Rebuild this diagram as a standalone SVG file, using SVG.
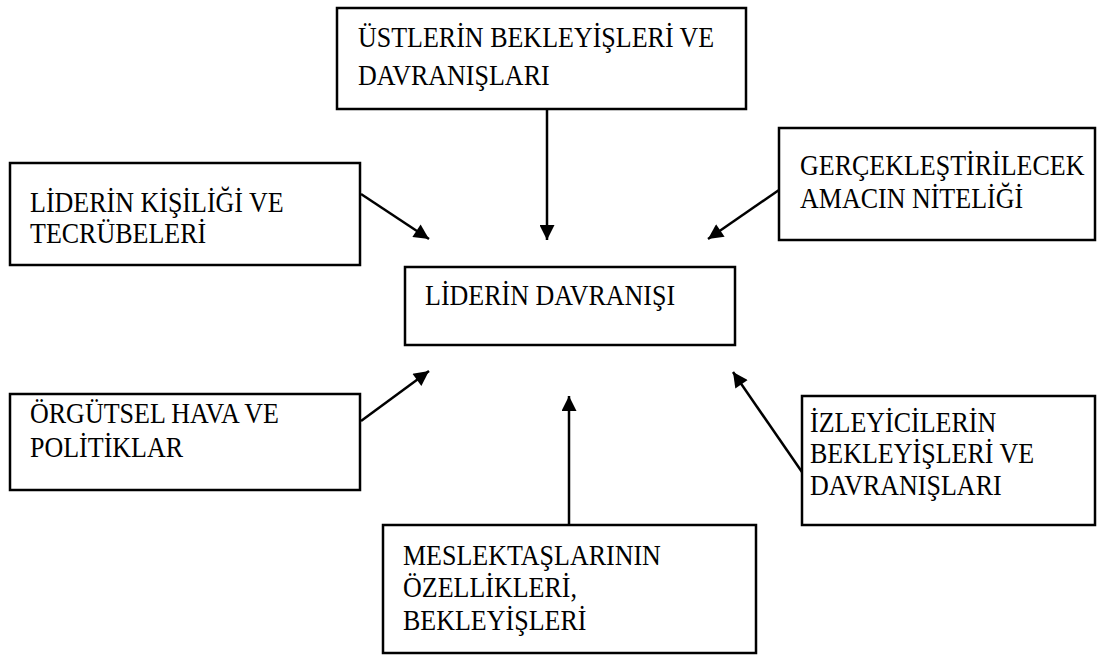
<svg xmlns="http://www.w3.org/2000/svg" width="1106" height="655" viewBox="0 0 1106 655">
<style>
.box{fill:#fff;stroke:#000;stroke-width:2.5}
.t{font-family:"Liberation Serif","Times New Roman",serif;font-size:26px;fill:#000}
.c{stroke:#000;stroke-width:2.5;fill:none;marker-end:url(#ah)}
</style>
<defs>
<marker id="ah" viewBox="0 0 10 10" refX="10" refY="5" markerWidth="7" markerHeight="6" markerUnits="strokeWidth" orient="auto">
<path d="M0,0 L10,5 L0,10 z" fill="#000"/>
</marker>
</defs>
<rect width="1106" height="655" fill="#fff"/>
<g id="connectors">
<line class="c" x1="547" y1="109" x2="547" y2="240"/>
<line class="c" x1="361" y1="194" x2="429" y2="239"/>
<line class="c" x1="779" y1="190" x2="708" y2="239"/>
<line class="c" x1="361" y1="421" x2="429" y2="371"/>
<line class="c" x1="802" y1="472" x2="733" y2="372"/>
<line class="c" x1="569" y1="525" x2="569" y2="396"/>
</g>
<g id="n_ustler">
<rect class="box" x="337" y="8" width="409" height="101"/>
<text class="t" transform="translate(358,47) scale(1,1.1)">ÜSTLERİN BEKLEYİŞLERİ VE</text>
<text class="t" transform="translate(358,85) scale(1,1.1)">DAVRANIŞLARI</text>
</g>
<g id="n_kisilik">
<rect class="box" x="10" y="163" width="350" height="102"/>
<text class="t" transform="translate(30,212) scale(1,1.1)">LİDERİN KİŞİLİĞİ VE</text>
<text class="t" transform="translate(30,243) scale(1,1.1)">TECRÜBELERİ</text>
</g>
<g id="n_amac">
<rect class="box" x="779" y="128" width="316" height="112"/>
<text class="t" transform="translate(800,175) scale(1,1.1)">GERÇEKLEŞTİRİLECEK</text>
<text class="t" transform="translate(800,208) scale(1,1.1)">AMACIN NİTELİĞİ</text>
</g>
<g id="n_lider">
<rect class="box" x="405" y="267" width="330" height="78"/>
<text class="t" transform="translate(425,305) scale(1,1.1)">LİDERİN DAVRANIŞI</text>
</g>
<g id="n_orgut">
<rect class="box" x="10" y="394" width="350" height="96"/>
<text class="t" transform="translate(30,423) scale(1,1.1)">ÖRGÜTSEL HAVA VE</text>
<text class="t" transform="translate(30,457) scale(1,1.1)">POLİTİKLAR</text>
</g>
<g id="n_izleyici">
<rect class="box" x="802" y="396" width="293" height="129"/>
<text class="t" transform="translate(810,432) scale(1,1.1)">İZLEYİCİLERİN</text>
<text class="t" transform="translate(810,463) scale(1,1.1)">BEKLEYİŞLERİ VE</text>
<text class="t" transform="translate(810,495) scale(1,1.1)">DAVRANIŞLARI</text>
</g>
<g id="n_meslek">
<rect class="box" x="383" y="525" width="373" height="128"/>
<text class="t" transform="translate(403,565) scale(1,1.1)">MESLEKTAŞLARININ</text>
<text class="t" transform="translate(403,597) scale(1,1.1)">ÖZELLİKLERİ,</text>
<text class="t" transform="translate(403,630) scale(1,1.1)">BEKLEYİŞLERİ</text>
</g>
</svg>
